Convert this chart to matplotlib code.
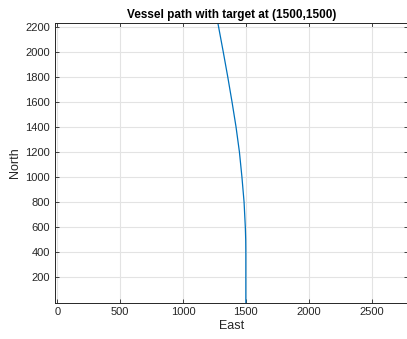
import matplotlib.pyplot as plt
import numpy as np

# Vessel path (East, North)
east = [1500, 1500, 1499, 1496, 1486, 1469, 1449, 1422, 1390, 1356, 1320, 1278]
north = [0, 400, 500, 600, 800, 1000, 1200, 1400, 1600, 1800, 2000, 2226]

x_ticks = [0, 500, 1000, 1500, 2000, 2500]
y_ticks = [200, 400, 600, 800, 1000, 1200, 1400, 1600, 1800, 2000, 2200]

plt.rcParams['font.family'] = ['Liberation Sans', 'DejaVu Sans']

fig = plt.figure(figsize=(4.07, 3.39), dpi=100)
ax = fig.add_axes([55 / 407, 1 - 302.5 / 339, 353 / 407, (302.5 - 23.3) / 339])

ax.plot(east, north, color='#0072BD', linewidth=0.9)

ax.set_xlim(-18, 2790)
ax.set_ylim(0, 2226)
ax.set_xticks(x_ticks)
ax.set_yticks(y_ticks)

ax.grid(True, color='#e3e3e3', linewidth=0.8)
ax.set_axisbelow(True)
ax.tick_params(direction='in', top=True, right=True, length=3, width=0.6,
               labelsize=8, colors='#262626')
for s in ax.spines.values():
    s.set_color('#262626')
    s.set_linewidth(0.7)

ax.set_xlabel('East', fontsize=9, color='#262626', labelpad=2)
ax.set_ylabel('North', fontsize=9, color='#262626', labelpad=3)
ax.set_title('Vessel path with target at (1500,1500)', fontsize=8.5,
             fontweight='bold', color='#000000', pad=4)

plt.savefig('out.png', dpi=100)
plt.close()
